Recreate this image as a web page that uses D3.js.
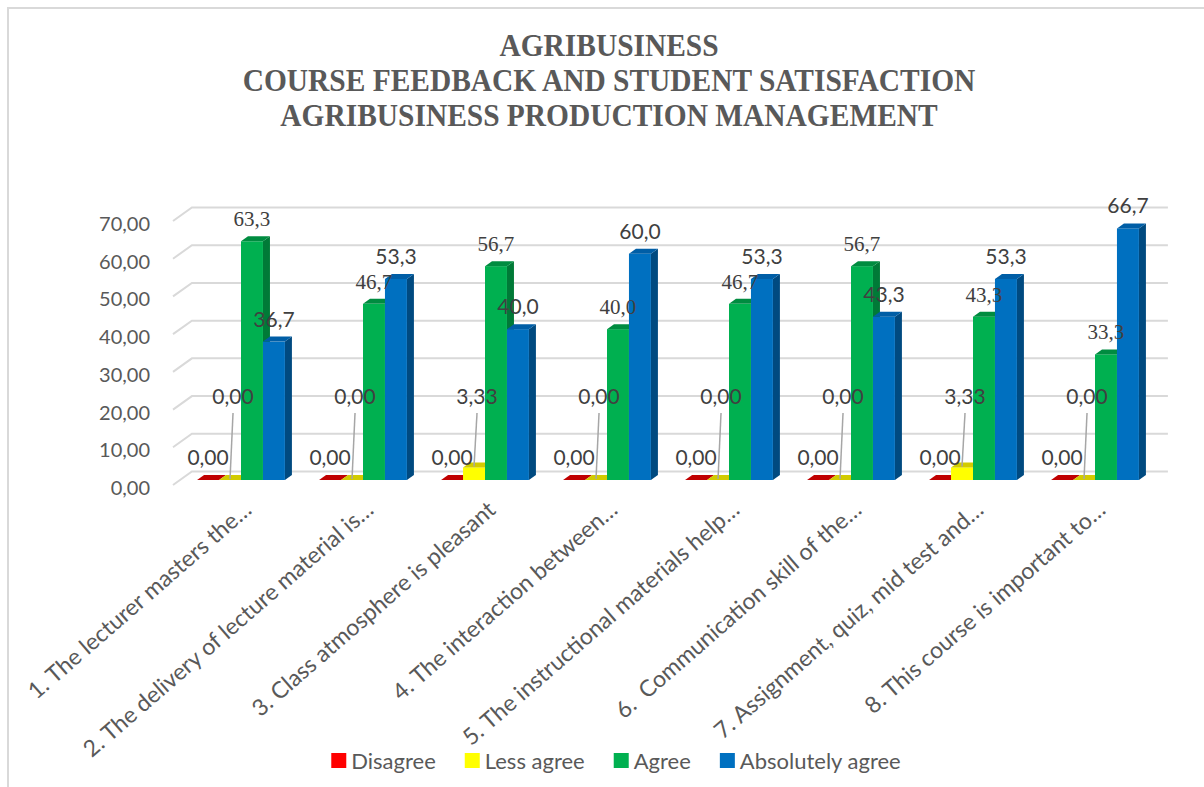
<!DOCTYPE html>
<html>
<head>
<meta charset="utf-8">
<script src="https://cdn.jsdelivr.net/npm/d3@7"></script>
<style>
  html, body { margin: 0; padding: 0; background: #ffffff; }
  svg { display: block; }
  text { white-space: pre; }
</style>
</head>
<body>
<svg id="chart" width="1204" height="787"></svg>
<script>
// ---- data ----
const titleLines = [
  "AGRIBUSINESS",
  "COURSE FEEDBACK AND STUDENT SATISFACTION",
  "AGRIBUSINESS PRODUCTION MANAGEMENT"
];
const categories = [
  "1. The lecturer masters the…",
  "2. The delivery of lecture material is…",
  "3. Class atmosphere is pleasant",
  "4. The interaction between…",
  "5. The instructional materials help…",
  "6.  Communication skill of the…",
  "7. Assignment, quiz, mid test and…",
  "8. This course is important to…"
];
const seriesNames = ["Disagree", "Less agree", "Agree", "Absolutely agree"];
const disagree        = [0, 0, 0, 0, 0, 0, 0, 0];
const lessAgree       = [0, 0, 3.33, 0, 0, 0, 3.33, 0];
const agree           = [63.3, 46.7, 56.7, 40.0, 46.7, 56.7, 43.3, 33.3];
const absolutelyAgree = [36.7, 53.3, 40.0, 60.0, 53.3, 43.3, 53.3, 66.7];
const yTicks = [0, 10, 20, 30, 40, 50, 60, 70];

const seriesValues = [disagree, lessAgree, agree, absolutelyAgree];

// ---- styling ----
const SANS = "Lato, 'Open Sans', sans-serif";
const SERIF = "'Liberation Serif', 'Times New Roman', serif";
const shades = [
  { front: "#FF0000", side: "#A00000", top: "#C00000" },
  { front: "#FFFF00", side: "#B8B800", top: "#D2CB00" },
  { front: "#00B050", side: "#007A37", top: "#008C40" },
  { front: "#0070C0", side: "#004A80", top: "#005EA6" }
];
const labelFormats = [".2f", ".2f", ".1f", ".1f"];
const labelFonts = [SANS, SANS, SERIF, SANS];
const labelSizes = [21, 21, 21, 21];

const locale = d3.formatLocale({ decimal: ",", thousands: ".", grouping: [3], currency: ["", ""] });

const svg = d3.select("#chart");
const W = 1204, H = 787;

// chart frame (top and left edges)
svg.append("path")
  .attr("d", `M8,${H} L8,8 L${W},8`)
  .attr("fill", "none")
  .attr("stroke", "#D9D9D9")
  .attr("stroke-width", 2);

// title (tall, slightly condensed serif)
svg.append("g").selectAll("text")
  .data(titleLines)
  .join("text")
  .attr("transform", (d, i) => `translate(609,${56 + i * 35}) scale(0.92,1)`)
  .attr("text-anchor", "middle")
  .attr("font-family", SERIF)
  .attr("font-weight", "bold")
  .attr("font-size", 32)
  .attr("fill", "#595959")
  .text(d => d);

// ---- scales ----
const x0 = d3.scaleBand().domain(categories).range([180, 1156]);
const groupW = x0.bandwidth() * 0.72;
const x1 = d3.scaleBand().domain(seriesNames).range([0, groupW]);
const y = d3.scaleLinear().domain([0, 70]).range([480, 216]);

// oblique depth vector for the 3-D look
const DX = 7, DY = -5;
const WALL = 1.7;

// gridlines: back wall + left side wall
const grid = svg.append("g");
const [xl, xr] = x0.range();
yTicks.forEach(t => {
  const yy = y(t);
  grid.append("path")
    .attr("d", `M${xl - DX},${yy - DY} L${xl + DX * WALL},${yy + DY * WALL} L${xr + DX * WALL},${yy + DY * WALL}`)
    .attr("fill", "none")
    .attr("stroke", "#D9D9D9")
    .attr("stroke-width", 2);
});

// y-axis tick labels
const fmtAxis = locale.format(".2f");
svg.append("g").selectAll("text")
  .data(yTicks)
  .join("text")
  .attr("x", 150)
  .attr("y", d => y(d) + 15)
  .attr("text-anchor", "end")
  .attr("font-family", SANS)
  .attr("font-size", 20)
  .attr("fill", "#595959")
  .text(d => fmtAxis(d));

// ---- bars ----
const bars = svg.append("g");
const barInfo = [];
categories.forEach((cat, i) => {
  seriesNames.forEach((s, k) => {
    const v = seriesValues[k][i];
    const bx = x0(cat) + (x0.bandwidth() - groupW) / 2 + x1(s);
    const w = x1.bandwidth();
    const top = y(v), base = y(0);
    const c = shades[k];
    const g = bars.append("g");
    // right side face
    g.append("polygon")
      .attr("points", [[bx + w, top], [bx + w + DX, top + DY], [bx + w + DX, base + DY], [bx + w, base]].map(p => p.join(",")).join(" "))
      .attr("fill", c.side);
    // front face
    g.append("rect")
      .attr("x", bx).attr("y", top)
      .attr("width", w).attr("height", base - top)
      .attr("fill", c.front);
    // top face
    g.append("polygon")
      .attr("points", [[bx, top], [bx + w, top], [bx + w + DX, top + DY], [bx + DX, top + DY]].map(p => p.join(",")).join(" "))
      .attr("fill", c.top);
    barInfo.push({ k, v, cx: bx + w / 2, top });
  });
});

// ---- data labels ----
const labels = svg.append("g");
barInfo.forEach(b => {
  const txt = locale.format(labelFormats[b.k])(b.v);
  if (b.k === 1) {
    // "Less agree" labels sit higher with a leader line down to the bar
    const lx = b.cx + 3, ly = y(0) - 76;
    labels.append("line")
      .attr("x1", lx).attr("y1", ly + 9)
      .attr("x2", b.cx).attr("y2", b.top - 1)
      .attr("stroke", "#A6A6A6")
      .attr("stroke-width", 1.5);
    labels.append("text")
      .attr("x", lx).attr("y", ly)
      .attr("text-anchor", "middle")
      .attr("font-family", labelFonts[b.k])
      .attr("font-size", labelSizes[b.k])
      .attr("fill", "#404040")
      .text(txt);
  } else {
    labels.append("text")
      .attr("x", b.cx).attr("y", b.top - 15)
      .attr("text-anchor", "middle")
      .attr("font-family", labelFonts[b.k])
      .attr("font-size", labelSizes[b.k])
      .attr("fill", "#404040")
      .text(txt);
  }
});

// ---- category labels ----
svg.append("g").selectAll("text")
  .data(categories)
  .join("text")
  .attr("transform", d => `translate(${x0(d) + x0.bandwidth() / 2 + 12},${512}) rotate(-41)`)
  .attr("text-anchor", "end")
  .attr("font-family", SANS)
  .attr("font-size", 23)
  .attr("fill", "#595959")
  .text(d => d);

// ---- legend ----
const legend = svg.append("g");
let lxPos = 0;
seriesNames.forEach((s, k) => {
  const g = legend.append("g");
  g.append("rect")
    .attr("x", 0).attr("y", -8)
    .attr("width", 15).attr("height", 15)
    .attr("fill", shades[k].front);
  const t = g.append("text")
    .attr("x", 20).attr("y", 0)
    .attr("dy", "0.35em")
    .attr("font-family", SANS)
    .attr("font-size", 22)
    .attr("fill", "#595959")
    .text(s);
  const wItem = 20 + t.node().getComputedTextLength();
  g.attr("transform", `translate(${lxPos},0)`);
  lxPos += wItem + 29;
});
const totalW = lxPos - 29;
legend.attr("transform", `translate(${616 - totalW / 2},761)`);
</script>
</body>
</html>
